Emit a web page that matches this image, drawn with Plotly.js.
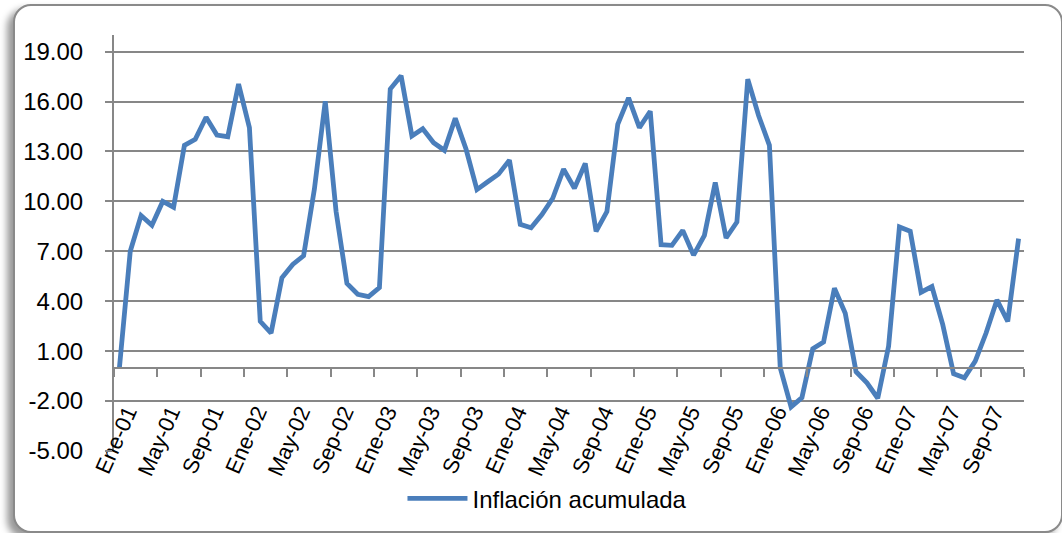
<!DOCTYPE html>
<html>
<head>
<meta charset="utf-8">
<script src="https://cdn.plot.ly/plotly-3.0.1.min.js"></script>
<style>
  html, body { margin: 0; padding: 0; width: 1062px; height: 533px; overflow: hidden; background: #ffffff; }
  #frame { position: absolute; left: 13px; top: 4px; width: 1046px; height: 525px;
           border: 2px solid #8a8a8a; border-radius: 18px; background: #ffffff;
           box-shadow: -6px 5px 7px rgba(0,0,0,0.4); }
  #chart { position: absolute; left: 0; top: 0; width: 1062px; height: 533px; }
</style>
</head>
<body>
<div id="frame"></div>
<div id="chart"></div>
<script>
// Month abbreviations (Spanish) and years shown in the category labels
const monthNames = ["Ene","Feb","Mar","Abr","May","Jun","Jul","Ago","Sep","Oct","Nov","Dic"];
const years = ["01","02","03","04","05","06","07"];

// Inflación acumulada, monthly values
const inflacion2001 = [0.0, 7.0, 9.15, 8.56, 10.0, 9.65, 13.37, 13.73, 15.06, 13.99, 13.89, 17.05];
const inflacion2002 = [14.43, 2.79, 2.09, 5.41, 6.21, 6.73, 10.75, 16.02, 9.39, 5.07, 4.42, 4.28];
const inflacion2003 = [4.82, 16.75, 17.55, 13.93, 14.37, 13.53, 13.07, 14.99, 13.13, 10.71, 11.18, 11.64];
const inflacion2004 = [12.48, 8.62, 8.42, 9.21, 10.19, 11.94, 10.79, 12.28, 8.20, 9.39, 14.63, 16.22];
const inflacion2005 = [14.43, 15.42, 7.40, 7.36, 8.26, 6.77, 7.96, 11.14, 7.80, 8.76, 17.35, 15.16];
const inflacion2006 = [13.37, 0.0, -2.35, -1.79, 1.15, 1.55, 4.78, 3.28, -0.24, -0.90, -1.83, 1.29];
const inflacion2007 = [8.46, 8.20, 4.54, 4.88, 2.59, -0.36, -0.60, 0.40, 2.09, 4.08, 2.79, 7.76];

// Y-axis tick values and labels
const yTicks = [-5, -2, 1, 4, 7, 10, 13, 16, 19];
const yTickLabels = ["-5.00", "-2.00", "1.00", "4.00", "7.00", "10.00", "13.00", "16.00", "19.00"];

const categories = [];
years.forEach(y => monthNames.forEach(m => categories.push(m + "-" + y)));
const values = [].concat(inflacion2001, inflacion2002, inflacion2003, inflacion2004,
                         inflacion2005, inflacion2006, inflacion2007);

const gridColor = "#878787";
const trace = {
  x: categories,
  y: values,
  type: "scatter",
  mode: "lines",
  name: "Inflación acumulada",
  line: { color: "#4A7EBB", width: 4.8 },
  hoverinfo: "skip"
};

const layout = {
  width: 1062,
  height: 533,
  margin: { l: 114, r: 38, t: 35, b: 80 },
  paper_bgcolor: "rgba(0,0,0,0)",
  plot_bgcolor: "rgba(0,0,0,0)",
  font: { family: "Liberation Sans, Arial, sans-serif", color: "#000000" },
  showlegend: true,
  legend: {
    orientation: "h",
    x: 0.317, xanchor: "left",
    y: -0.115, yanchor: "middle",
    font: { size: 24, family: "Liberation Sans, Arial, sans-serif" },
    itemwidth: 60,
    bgcolor: "rgba(0,0,0,0)"
  },
  xaxis: {
    type: "category",
    anchor: "free",
    position: 0.2,
    range: [-0.5, 83.5],
    tickmode: "linear",
    tick0: 0,
    dtick: 4,
    tickson: "boundaries",
    ticks: "outside",
    ticklen: 8,
    tickwidth: 2,
    tickcolor: gridColor,
    showline: true,
    linecolor: gridColor,
    linewidth: 2,
    showgrid: false,
    zeroline: false,
    tickangle: -66,
    ticklabelstandoff: 22,
    ticklabelshift: 8,
    tickfont: { size: 22, family: "Liberation Sans, Arial, sans-serif" }
  },
  yaxis: {
    range: [-5, 20],
    tickmode: "array",
    tickvals: yTicks,
    ticktext: yTickLabels,
    ticks: "outside",
    ticklen: 7,
    tickwidth: 2,
    tickcolor: gridColor,
    showline: true,
    linecolor: gridColor,
    linewidth: 2,
    showgrid: true,
    gridcolor: gridColor,
    gridwidth: 2,
    zeroline: false,
    ticklabelstandoff: 17,
    tickfont: { size: 24, family: "Liberation Sans, Arial, sans-serif" }
  }
};

Plotly.newPlot("chart", [trace], layout, { displayModeBar: false, staticPlot: true });
</script>
</body>
</html>
